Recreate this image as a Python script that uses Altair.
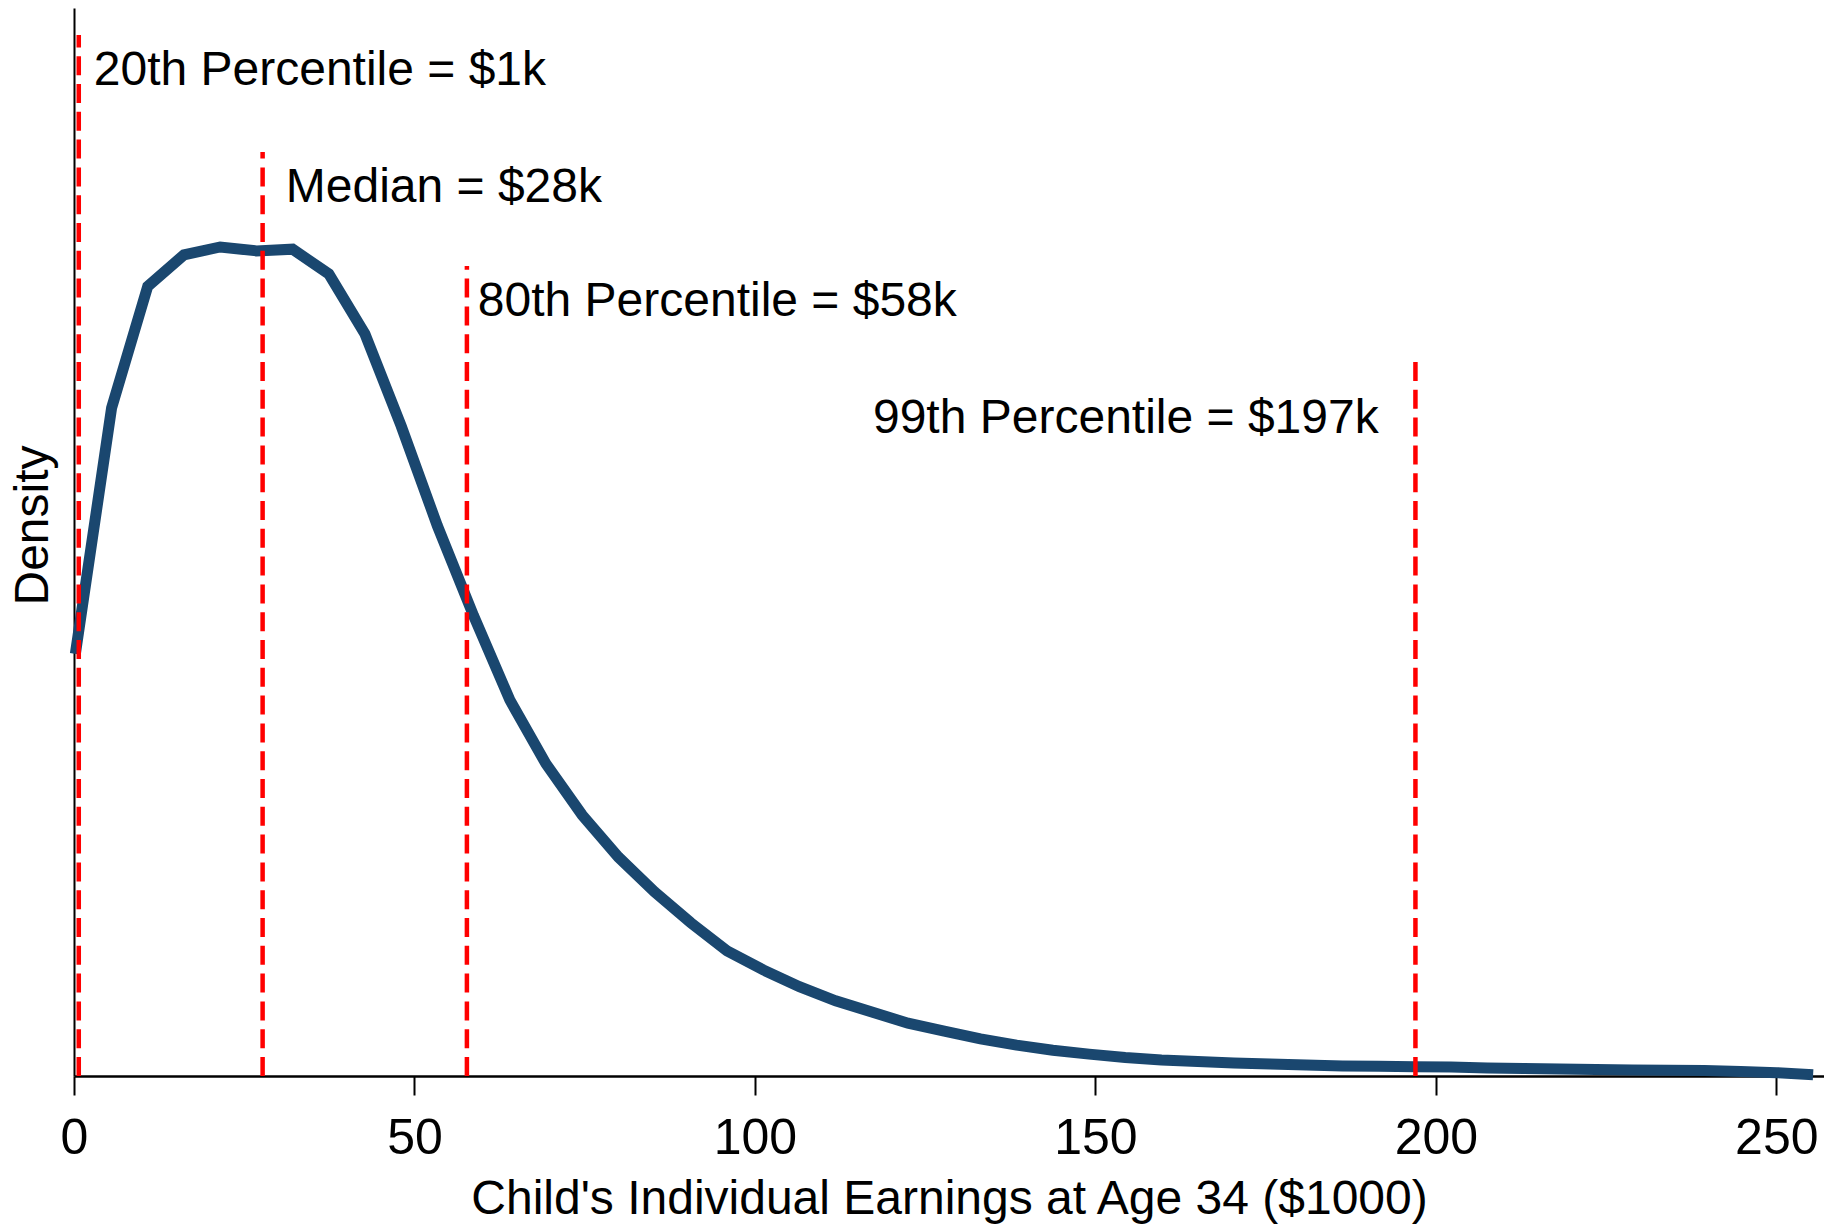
import altair as alt
import pandas as pd

# ---- density curve ----
earnings_k = [0.20, 5.52, 10.83, 16.15, 21.47, 26.78, 32.10, 37.42, 42.73, 48.05,
              53.37, 58.68, 64.00, 69.32, 74.63, 79.95, 85.27, 90.58, 95.90, 101.22,
              106.53, 111.85, 117.17, 122.48, 127.80, 133.12, 138.43, 143.75, 149.07, 154.38,
              159.70, 165.02, 170.33, 175.65, 180.97, 186.28, 191.60, 196.92, 202.23, 207.55,
              212.87, 218.18, 223.50, 228.82, 234.13, 239.45, 244.77, 250.08, 255.40]
density = [0.00752, 0.01190, 0.01407, 0.01463, 0.01477, 0.01470, 0.01473, 0.01429, 0.01322, 0.01158,
           0.00980, 0.00820, 0.00670, 0.00556, 0.00465, 0.00390, 0.00328, 0.00273, 0.00223, 0.00189,
           0.00159, 0.00134, 0.00114, 0.00094, 0.00080, 0.00066, 0.00055, 0.00046, 0.00039, 0.00033,
           0.000285, 0.000258, 0.000232, 0.000214, 0.000196, 0.000178, 0.000173, 0.000167, 0.000160, 0.000143,
           0.000134, 0.000125, 0.000116, 0.000107, 0.000103, 0.000098, 0.000080, 0.000059, 0.000023]

# ---- percentile markers ----
pct_labels = ["20th Percentile = $1k", "Median = $28k", "80th Percentile = $58k", "99th Percentile = $197k"]
pct_values = [0.7, 27.7, 57.7, 197.0]
rule_bottoms = [0.0, 0.0, 0.0, 0.0]
rule_tops = [0.018546, 0.016462, 0.014431, 0.012756]
label_x = [2.9, 31.1, 59.3, 191.6]
label_y = [0.017656, 0.015571, 0.013540, 0.011456]
label_align = ["left", "left", "left", "right"]

x_ticks = [0, 50, 100, 150, 200, 250]
X_MAX = 257
Y_MAX = 0.019027

FONT = "Liberation Sans, Arial, sans-serif"

curve = pd.DataFrame({"earnings": earnings_k, "density": density})
pct = pd.DataFrame({
    "label": pct_labels,
    "value": pct_values,
    "bottom": rule_bottoms,
    "top": rule_tops,
    "lx": label_x,
    "ly": label_y,
    "align": label_align,
})

xscale = alt.Scale(domain=[0, X_MAX], nice=False, zero=False)
yscale = alt.Scale(domain=[0, Y_MAX], nice=False, zero=True)

x_axis = alt.Axis(values=x_ticks, title="Child's Individual Earnings at Age 34 ($1000)",
                  grid=False, domainColor="black", domainWidth=2.5,
                  tickColor="black", tickWidth=2, tickSize=19,
                  labelFont=FONT, labelFontSize=50, labelColor="black",
                  labelPadding=58, labelBaseline="alphabetic", labelFlush=False,
                  labelOverlap=False,
                  titleFont=FONT, titleFontSize=48, titleColor="black",
                  titleFontWeight="normal", titleY=137, titleBaseline="alphabetic")
y_axis = alt.Axis(title="Density", labels=False, ticks=False, grid=False,
                  domainColor="black", domainWidth=2,
                  titleFont=FONT, titleFontSize=48, titleColor="black",
                  titleFontWeight="normal", titleAngle=270, titleX=-27, titleY=517,
                  titleBaseline="alphabetic", titleAlign="center")

line = alt.Chart(curve).mark_line(color="#1A476F", strokeWidth=11, strokeJoin="miter").encode(
    x=alt.X("earnings:Q", scale=xscale, axis=x_axis),
    y=alt.Y("density:Q", scale=yscale, axis=y_axis),
)

rules = alt.Chart(pct).mark_rule(color="#FF0000", strokeWidth=4.5, strokeDash=[19, 8.8]).encode(
    x=alt.X("value:Q", scale=xscale, axis=x_axis),
    y=alt.Y("bottom:Q", scale=yscale, axis=y_axis),
    y2=alt.Y2("top:Q"),
)

text_left = alt.Chart(pct).transform_filter(alt.datum.align == "left").mark_text(
    align="left", baseline="alphabetic", font=FONT, fontSize=48, color="black"
).encode(
    x=alt.X("lx:Q", scale=xscale, axis=x_axis),
    y=alt.Y("ly:Q", scale=yscale, axis=y_axis),
    text="label:N",
)

text_right = alt.Chart(pct).transform_filter(alt.datum.align == "right").mark_text(
    align="right", baseline="alphabetic", font=FONT, fontSize=48, color="black"
).encode(
    x=alt.X("lx:Q", scale=xscale, axis=x_axis),
    y=alt.Y("ly:Q", scale=yscale, axis=y_axis),
    text="label:N",
)

chart = alt.layer(line, rules, text_left, text_right).properties(
    width=1750,
    height=1068,
    padding={"left": 66, "top": 0, "right": 0, "bottom": 150},
    autosize=alt.AutoSizeParams(type="none"),
    background="white",
).configure_view(stroke=None)

chart.save("out.html", embed_options={"renderer": "svg", "actions": False})
